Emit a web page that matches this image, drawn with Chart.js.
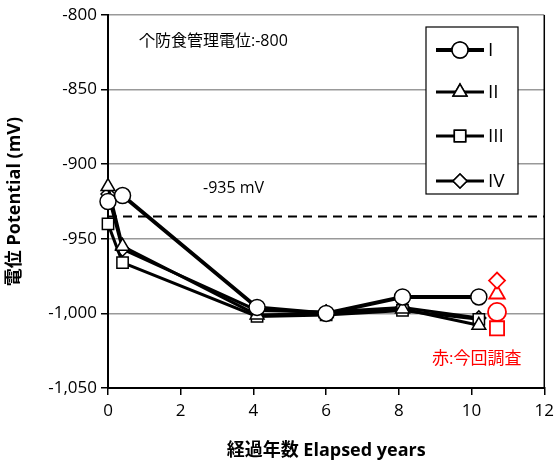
<!DOCTYPE html>
<html>
<head>
<meta charset="utf-8">
<script src="https://cdn.jsdelivr.net/npm/chart.js@4/dist/chart.umd.min.js"></script>
<style>
  body { margin: 0; background: #fff; }
  #wrap { width: 560px; height: 466px; }
</style>
</head>
<body>
<div id="wrap"><canvas id="chart" width="560" height="466"></canvas></div>
<script>
const years = [0, 0.4, 4.1, 6, 8.1, 10.2];
const seriesI = [-925, -921, -996, -1000, -989, -989];
const seriesII = [-915, -955, -1001, -1000, -997, -1008];
const seriesIII = [-940, -966, -1002, -1001, -998, -1004];
const seriesIV = [-920, -957, -998, -999, -996, -1003];
const seriesNames = ["I", "II", "III", "IV"];
const latestYear = 10.7;
const latestValues = [-999, -987, -1010, -978]; // I, II, III, IV (red)
const criterion = -935;
const yTicks = [-800, -850, -900, -950, -1000, -1050];
const xTicks = [0, 2, 4, 6, 8, 10, 12];

const FONT = "'Open Sans', 'Noto Sans CJK JP', sans-serif";
const styles = ["circle", "triangle", "rect", "rectRot"];

function pts(vals) {
  return years.map((x, i) => ({ x: x, y: vals[i] }));
}

const datasets = [
  { label: seriesNames[0], data: pts(seriesI), borderWidth: 4, pointStyle: "circle", pointRadius: 8 },
  { label: seriesNames[1], data: pts(seriesII), borderWidth: 3, pointStyle: "triangle", pointRadius: 8 },
  { label: seriesNames[2], data: pts(seriesIII), borderWidth: 3, pointStyle: "rect", pointRadius: 8 },
  { label: seriesNames[3], data: pts(seriesIV), borderWidth: 3, pointStyle: "rectRot", pointRadius: 7 },
].map(d => Object.assign(d, {
  borderColor: "#000",
  pointBackgroundColor: "#fff",
  pointBorderColor: "#000",
  pointBorderWidth: 1.5,
  clip: false,
}));

// red markers: latest survey
datasets.push({
  label: "latest",
  data: latestValues.map(v => ({ x: latestYear, y: v })),
  showLine: false,
  clip: false,
  pointStyle: styles,
  pointRadius: [9, 9, 10, 8],
  pointBackgroundColor: "#fff",
  pointBorderColor: "#ff0000",
  pointBorderWidth: 1.8,
});

// dashed criterion line
datasets.unshift({
  label: "criterion",
  data: [{ x: 0, y: criterion }, { x: 12, y: criterion }],
  borderColor: "#000",
  borderWidth: 2,
  borderDash: [9, 6],
  pointRadius: 0,
});

const extras = {
  id: "extras",
  afterDraw(chart) {
    const ctx = chart.ctx;
    const a = chart.chartArea;
    ctx.save();
    // right border
    ctx.strokeStyle = "#000";
    ctx.lineWidth = 1.5;
    ctx.beginPath();
    ctx.moveTo(a.right, a.top);
    ctx.lineTo(a.right, a.bottom);
    ctx.stroke();

    // annotations
    ctx.fillStyle = "#000";
    ctx.font = "16px " + FONT;
    ctx.textBaseline = "middle";
    ctx.fillText("个防食管理電位:-800", 139, 41);
    ctx.fillText("-935 mV", 203, 188);
    ctx.fillStyle = "#ff0000";
    ctx.font = "17px " + FONT;
    ctx.fillText("赤:今回調査", 432, 359);

    // legend box
    const lx = 426, ly = 27, lw = 92, lh = 167;
    ctx.fillStyle = "#fff";
    ctx.fillRect(lx, ly, lw, lh);
    ctx.strokeStyle = "#000";
    ctx.lineWidth = 1.2;
    ctx.strokeRect(lx, ly, lw, lh);
    const rows = [50, 92, 136, 181];
    const widths = [4, 3, 3, 3];
    const radii = [8, 8, 8, 7];
    ctx.font = "19px " + FONT;
    rows.forEach((y, i) => {
      ctx.strokeStyle = "#000";
      ctx.lineWidth = widths[i];
      ctx.beginPath();
      ctx.moveTo(436, y);
      ctx.lineTo(484, y);
      ctx.stroke();
      ctx.fillStyle = "#fff";
      ctx.lineWidth = 1.5;
      Chart.helpers.drawPoint(ctx, { pointStyle: styles[i], radius: radii[i], borderWidth: 1.5 }, 460, y);
      ctx.fill();
      ctx.stroke();
      ctx.fillStyle = "#000";
      ctx.fillText(seriesNames[i], 488, y + 1);
    });
    ctx.restore();
  }
};

new Chart(document.getElementById("chart"), {
  type: "line",
  data: { datasets: datasets },
  options: {
    responsive: false,
    animation: false,
    layout: { padding: { top: 15, right: 14, left: 0, bottom: 0 } },
    plugins: { legend: { display: false }, tooltip: { enabled: false } },
    scales: {
      x: {
        type: "linear",
        min: 0,
        max: 12,
        afterBuildTicks: s => { s.ticks = xTicks.map(v => ({ value: v })); },
        afterFit: s => { s.height = 78; },
        grid: { drawOnChartArea: false, tickLength: 7, color: "#000", lineWidth: 1.5 },
        border: { color: "#000", width: 2 },
        ticks: { color: "#000", font: { size: 17, family: FONT }, padding: 6 },
        title: {
          display: true,
          text: "経過年数 Elapsed years",
          color: "#000",
          font: { size: 18, weight: "bold", family: FONT },
          padding: { top: 6 },
        },
      },
      y: {
        min: -1050,
        max: -800,
        afterBuildTicks: s => { s.ticks = yTicks.map(v => ({ value: v })); },
        afterFit: s => { s.width = 108; },
        grid: { color: "#999", lineWidth: 1.5, tickLength: 7, tickColor: "#000" },
        border: { color: "#000", width: 2 },
        ticks: {
          color: "#000",
          font: { size: 17, family: FONT },
          padding: 4,
          callback: v => v.toLocaleString("en-US"),
        },
        title: {
          display: true,
          text: "電位 Potential (mV)",
          color: "#000",
          font: { size: 18, weight: "bold", family: FONT },
          padding: { bottom: 2 },
        },
      },
    },
  },
  plugins: [extras],
});
</script>
</body>
</html>
